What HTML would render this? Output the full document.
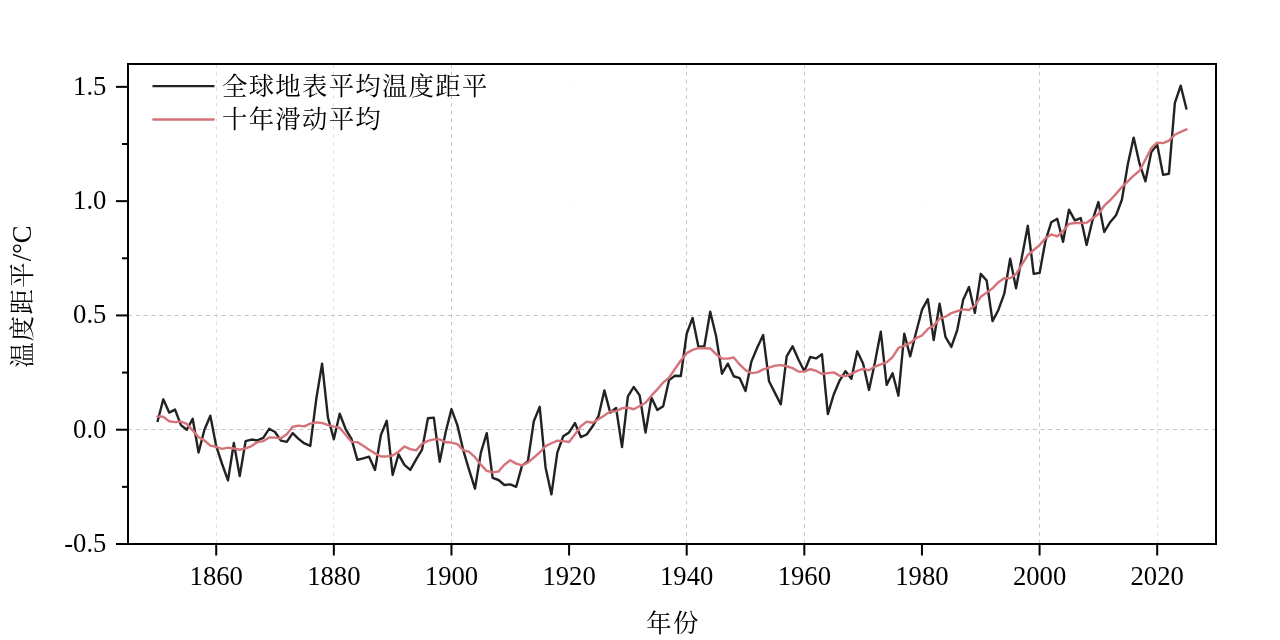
<!DOCTYPE html>
<html lang="zh"><head><meta charset="utf-8"><title>全球地表平均温度距平</title>
<style>html,body{margin:0;padding:0;background:#fff}body{width:1280px;height:640px;overflow:hidden}svg{display:block}text{font-family:"Liberation Serif","Noto Serif CJK SC",serif;font-size:26.67px;fill:#000;font-weight:400}.cj{font-weight:400;font-size:25.4px;letter-spacing:1.27px}.la{font-size:26.67px;letter-spacing:0}</style></head><body>
<svg width="1280" height="640" viewBox="0 0 1280 640">
<rect x="0" y="0" width="1280" height="640" fill="#fff"/>
<line x1="216.5" y1="64.0" x2="216.5" y2="544.0" stroke="#dedede" stroke-width="1" stroke-dasharray="3.8 4"/><line x1="333.5" y1="64.0" x2="333.5" y2="544.0" stroke="#e0e0e0" stroke-width="1" stroke-dasharray="3.8 4"/><line x1="451.5" y1="64.0" x2="451.5" y2="544.0" stroke="#c4c4c4" stroke-width="1" stroke-dasharray="3.8 4"/><line x1="569.5" y1="64.0" x2="569.5" y2="544.0" stroke="#fcfcfc" stroke-width="1" stroke-dasharray="3.8 4"/><line x1="686.5" y1="64.0" x2="686.5" y2="544.0" stroke="#c4c4c4" stroke-width="1" stroke-dasharray="3.8 4"/><line x1="804.5" y1="64.0" x2="804.5" y2="544.0" stroke="#c4c4c4" stroke-width="1" stroke-dasharray="3.8 4"/><line x1="921.5" y1="64.0" x2="921.5" y2="544.0" stroke="#fcfcfc" stroke-width="1" stroke-dasharray="3.8 4"/><line x1="1039.5" y1="64.0" x2="1039.5" y2="544.0" stroke="#cacaca" stroke-width="1" stroke-dasharray="3.8 4"/><line x1="1157.5" y1="64.0" x2="1157.5" y2="544.0" stroke="#dedede" stroke-width="1" stroke-dasharray="3.8 4"/><line x1="128.0" y1="429.5" x2="1216.0" y2="429.5" stroke="#c2c2c2" stroke-width="1" stroke-dasharray="3.8 4"/><line x1="128.0" y1="315.5" x2="1216.0" y2="315.5" stroke="#c2c2c2" stroke-width="1" stroke-dasharray="3.8 4"/><line x1="128.0" y1="201.5" x2="1216.0" y2="201.5" stroke="#fafafa" stroke-width="1" stroke-dasharray="3.8 4"/><line x1="128.0" y1="86.5" x2="1216.0" y2="86.5" stroke="#fbfbfb" stroke-width="1" stroke-dasharray="3.8 4"/>
<polyline points="157.41,421.94 163.29,399.31 169.17,412.57 175.05,409.60 180.93,425.14 186.81,429.71 192.69,418.74 198.57,452.57 204.45,429.71 210.34,415.77 216.22,446.17 222.10,464.00 227.98,480.46 233.86,442.97 239.74,476.11 245.62,441.14 251.50,439.54 257.38,440.46 263.26,437.94 269.15,428.80 275.03,432.00 280.91,440.69 286.79,441.83 292.67,433.14 298.55,438.86 304.43,443.43 310.31,445.94 316.19,399.54 322.08,363.66 327.96,417.60 333.84,439.31 339.72,413.71 345.60,429.03 351.48,438.86 357.36,459.89 363.24,458.29 369.12,456.69 375.01,469.94 380.89,434.97 386.77,420.80 392.65,474.97 398.53,454.40 404.41,464.91 410.29,469.94 416.17,459.43 422.05,449.60 427.94,418.29 433.82,417.60 439.70,461.71 445.58,432.46 451.46,409.14 457.34,425.14 463.22,450.06 469.10,469.94 474.98,488.69 480.86,452.57 486.75,433.14 492.63,477.94 498.51,480.00 504.39,485.03 510.27,484.34 516.15,486.86 522.03,465.60 527.91,461.26 533.79,421.26 539.68,406.86 545.56,467.43 551.44,494.40 557.32,452.57 563.20,436.34 569.08,432.46 574.96,423.09 580.84,437.03 586.72,434.51 592.61,426.29 598.49,416.23 604.37,390.40 610.25,412.57 616.13,408.00 622.01,447.09 627.89,396.34 633.77,386.97 639.65,395.43 645.54,432.46 651.42,397.49 657.30,410.06 663.18,406.17 669.06,380.11 674.94,375.77 680.82,376.00 686.70,333.71 692.58,317.94 698.46,346.97 704.35,346.29 710.23,311.77 716.11,336.23 721.99,373.71 727.87,363.66 733.75,376.23 739.63,378.06 745.51,391.09 751.39,361.60 757.28,347.43 763.16,335.09 769.04,381.26 774.92,392.91 780.80,404.34 786.68,356.34 792.56,346.29 798.44,359.54 804.32,371.20 810.21,357.03 816.09,358.40 821.97,354.29 827.85,414.17 833.73,394.51 839.61,380.57 845.49,371.20 851.37,378.74 857.25,351.31 863.14,363.66 869.02,389.94 874.90,362.51 880.78,331.66 886.66,384.91 892.54,373.26 898.42,395.66 904.30,333.71 910.18,356.34 916.06,332.57 921.95,309.94 927.83,299.20 933.71,340.11 939.59,303.77 945.47,336.91 951.35,346.97 957.23,330.06 963.11,300.11 968.99,287.09 974.88,312.91 980.76,273.83 986.64,280.46 992.52,321.14 998.40,309.94 1004.28,293.71 1010.16,258.74 1016.04,288.23 1021.92,256.91 1027.81,225.83 1033.69,273.83 1039.57,272.91 1045.45,240.91 1051.33,222.17 1057.21,218.74 1063.09,241.83 1068.97,209.60 1074.85,220.34 1080.74,218.06 1086.62,245.03 1092.50,220.34 1098.38,202.06 1104.26,232.00 1110.14,222.17 1116.02,215.31 1121.90,199.77 1127.78,164.57 1133.66,137.60 1139.55,163.66 1145.43,181.26 1151.31,152.00 1157.19,144.46 1163.07,174.86 1168.95,173.71 1174.83,103.09 1180.71,85.71 1186.59,109.49" fill="none" stroke="#222" stroke-width="2.4" stroke-linejoin="round" stroke-linecap="butt"/>
<polyline points="157.41,416.38 163.29,416.72 169.17,421.20 175.05,422.15 180.93,421.51 186.81,423.93 192.69,430.40 198.57,437.19 204.45,440.53 210.34,445.62 216.22,446.77 222.10,448.85 227.98,447.63 233.86,448.46 239.74,449.76 245.62,448.34 251.50,446.01 257.38,442.15 263.26,441.17 269.15,437.44 275.03,437.67 280.91,438.31 286.79,434.22 292.67,426.79 298.55,425.67 304.43,426.40 310.31,423.70 316.19,422.42 322.08,422.99 327.96,425.10 333.84,426.58 339.72,427.66 345.60,434.70 351.48,441.83 357.36,442.15 363.24,445.71 369.12,449.78 375.01,453.37 380.89,456.48 386.77,456.43 392.65,455.57 398.53,451.73 404.41,446.49 410.29,449.17 416.17,450.33 422.05,443.75 427.94,440.82 433.82,439.34 439.70,439.34 445.58,442.26 451.46,442.56 457.34,444.05 463.22,450.08 469.10,451.91 474.98,457.17 480.86,464.69 486.75,470.86 492.63,472.41 498.51,471.54 504.39,464.80 510.27,460.23 516.15,463.66 522.03,465.30 527.91,462.56 533.79,457.69 539.68,452.50 545.56,446.13 551.44,443.27 557.32,440.59 563.20,441.10 569.08,442.03 574.96,434.33 580.84,426.15 586.72,421.69 592.61,422.77 598.49,419.15 604.37,415.54 610.25,411.38 616.13,411.18 622.01,408.30 627.89,407.68 633.77,409.26 639.65,406.01 645.54,402.79 651.42,395.68 657.30,389.42 663.18,382.51 669.06,377.67 674.94,369.05 680.82,360.48 686.70,353.10 692.58,349.85 698.46,348.21 704.35,348.25 710.23,348.46 716.11,354.19 721.99,358.56 727.87,358.61 733.75,357.49 739.63,364.43 745.51,370.10 751.39,373.17 757.28,372.43 763.16,369.44 769.04,367.59 774.92,365.60 780.80,365.14 786.68,366.24 792.56,368.16 798.44,371.45 804.32,371.61 810.21,369.23 816.09,370.72 821.97,373.97 827.85,373.14 833.73,372.39 839.61,375.68 845.49,376.09 851.37,373.83 857.25,370.90 863.14,368.78 869.02,370.29 874.90,366.54 880.78,364.30 886.66,362.42 892.54,357.05 898.42,347.98 904.30,345.74 910.18,342.95 916.06,338.15 921.95,335.52 927.83,328.96 933.71,325.60 939.59,318.67 945.47,316.71 951.35,313.10 957.23,311.22 963.11,309.33 968.99,309.94 974.88,305.62 980.76,296.80 986.64,292.62 992.52,288.30 998.40,282.17 1004.28,278.26 1010.16,278.17 1016.04,274.22 1021.92,264.32 1027.81,255.20 1033.69,250.01 1039.57,245.10 1045.45,238.31 1051.33,234.42 1057.21,236.34 1063.09,230.99 1068.97,223.91 1074.85,223.02 1080.74,223.02 1086.62,222.67 1092.50,218.47 1098.38,213.97 1104.26,205.69 1110.14,200.25 1116.02,193.87 1121.90,187.04 1127.78,181.28 1133.66,175.57 1139.55,170.72 1145.43,159.50 1151.31,148.09 1157.19,142.58 1163.07,143.14 1168.95,140.57 1174.83,134.76 1180.71,131.89 1186.59,129.37" fill="none" stroke="#d6727a" stroke-width="2.4" stroke-linejoin="round" stroke-linecap="round"/>
<rect x="128.0" y="64.0" width="1088.0" height="480.0" fill="none" stroke="#000" stroke-width="2"/>
<g stroke="#000" stroke-width="2" fill="none"><line x1="216.22" y1="544.0" x2="216.22" y2="555.5"/><line x1="333.84" y1="544.0" x2="333.84" y2="555.5"/><line x1="451.46" y1="544.0" x2="451.46" y2="555.5"/><line x1="569.08" y1="544.0" x2="569.08" y2="555.5"/><line x1="686.70" y1="544.0" x2="686.70" y2="555.5"/><line x1="804.32" y1="544.0" x2="804.32" y2="555.5"/><line x1="921.95" y1="544.0" x2="921.95" y2="555.5"/><line x1="1039.57" y1="544.0" x2="1039.57" y2="555.5"/><line x1="1157.19" y1="544.0" x2="1157.19" y2="555.5"/><line x1="128.0" y1="544.00" x2="116.0" y2="544.00"/><line x1="128.0" y1="486.86" x2="122.0" y2="486.86"/><line x1="128.0" y1="429.71" x2="116.0" y2="429.71"/><line x1="128.0" y1="372.57" x2="122.0" y2="372.57"/><line x1="128.0" y1="315.43" x2="116.0" y2="315.43"/><line x1="128.0" y1="258.29" x2="122.0" y2="258.29"/><line x1="128.0" y1="201.14" x2="116.0" y2="201.14"/><line x1="128.0" y1="144.00" x2="122.0" y2="144.00"/><line x1="128.0" y1="86.86" x2="116.0" y2="86.86"/></g>
<text x="216.22" y="584.5" text-anchor="middle">1860</text>
<text x="333.84" y="584.5" text-anchor="middle">1880</text>
<text x="451.46" y="584.5" text-anchor="middle">1900</text>
<text x="569.08" y="584.5" text-anchor="middle">1920</text>
<text x="686.70" y="584.5" text-anchor="middle">1940</text>
<text x="804.32" y="584.5" text-anchor="middle">1960</text>
<text x="921.95" y="584.5" text-anchor="middle">1980</text>
<text x="1039.57" y="584.5" text-anchor="middle">2000</text>
<text x="1157.19" y="584.5" text-anchor="middle">2020</text>
<text x="106.4" y="551.80" text-anchor="end">-0.5</text>
<text x="106.4" y="437.51" text-anchor="end">0.0</text>
<text x="106.4" y="323.23" text-anchor="end">0.5</text>
<text x="106.4" y="208.94" text-anchor="end">1.0</text>
<text x="106.4" y="94.66" text-anchor="end">1.5</text>
<text class="cj" x="673" y="631.8" text-anchor="middle">年份</text>
<text class="cj" transform="translate(30.7,296.6) rotate(-90)" text-anchor="middle">温度距平<tspan class="la">/°C</tspan></text>
<line x1="152.5" y1="86.2" x2="214.5" y2="86.2" stroke="#222" stroke-width="2.3"/>
<line x1="153.5" y1="119.5" x2="213.5" y2="119.5" stroke="#d6727a" stroke-width="2.7" stroke-linecap="round"/>
<text class="cj" x="222" y="95">全球地表平均温度距平</text>
<text class="cj" x="222" y="128.3">十年滑动平均</text>
</svg></body></html>
